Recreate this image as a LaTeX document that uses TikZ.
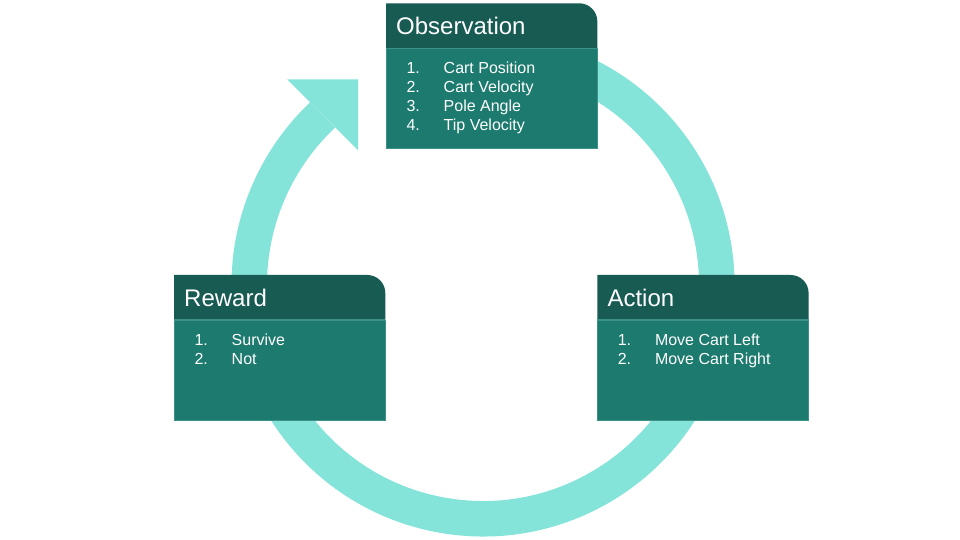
\documentclass[tikz,border=0pt]{standalone}
\usepackage{fontspec}
\setmainfont{Liberation Sans}
\definecolor{ringc}{HTML}{84E4D9}
\definecolor{headc}{HTML}{175B53}
\definecolor{bodyc}{HTML}{1C7A6E}
\definecolor{sepc}{HTML}{3C9188}
\newcommand\mycard[4]{%
  \fill[headc] (#2,#3-45) -- (#2,#3) -- (#2+193.3,#3)
    arc[start angle=90,end angle=0,radius=18] -- (#2+211.3,#3-45) -- cycle;
  \node[bodybox,anchor=north west] (#1) at (#2,#3-45) {};
  \draw[sepline] (#1.north west) -- (#1.north east);
  \node[titletext] (#1-title) at (#2+10,#3-31.7) {#4};
}
\newcommand\myitem[5]{%
  \node[itemtext] (#1-n#2) at (#3+20.3,#4-70.7-18.7*#2+18.7) {#2.};
  \node[itemtext] (#1-i#2) at (#3+57.5,#4-70.7-18.7*#2+18.7) {#5};
}
\begin{document}
\begin{tikzpicture}[x=1pt,y=1pt,
  ring/.style={draw=ringc,line width=35.5pt},
  bodybox/.style={rectangle,fill=bodyc,draw=sepc,line width=0.5pt,
    minimum width=211.3pt,minimum height=100pt,inner sep=0pt,outer sep=0pt},
  sepline/.style={draw=sepc,line width=1pt},
  titletext/.style={anchor=base west,inner sep=0pt,text=white,font=\fontsize{24}{28}\selectfont},
  itemtext/.style={anchor=base west,inner sep=0pt,text=white,font=\fontsize{16}{19}\selectfont}]
\useasboundingbox (0,0) rectangle (960,540);
\fill[white] (0,0) rectangle (960,540);
% cycle arrow
\draw[ring] (483,255) ++(80:233.75)
  arc[start angle=80,end angle=-226.7,radius=233.75] coordinate (aend);
\fill[ringc] (aend) ++(-35.5,35.5) -- ++(71,0) -- ++(0,-71) -- cycle;
% cards
\mycard{obs}{386}{536.7}{Observation}
\myitem{obs}{1}{386}{536.7}{Cart Position}
\myitem{obs}{2}{386}{536.7}{Cart Velocity}
\myitem{obs}{3}{386}{536.7}{Pole Angle}
\myitem{obs}{4}{386}{536.7}{Tip Velocity}
\mycard{rew}{174}{265}{Reward}
\myitem{rew}{1}{174}{265}{Survive}
\myitem{rew}{2}{174}{265}{Not}
\mycard{act}{597.3}{265}{Action}
\myitem{act}{1}{597.3}{265}{Move Cart Left}
\myitem{act}{2}{597.3}{265}{Move Cart Right}
\end{tikzpicture}
\end{document}
